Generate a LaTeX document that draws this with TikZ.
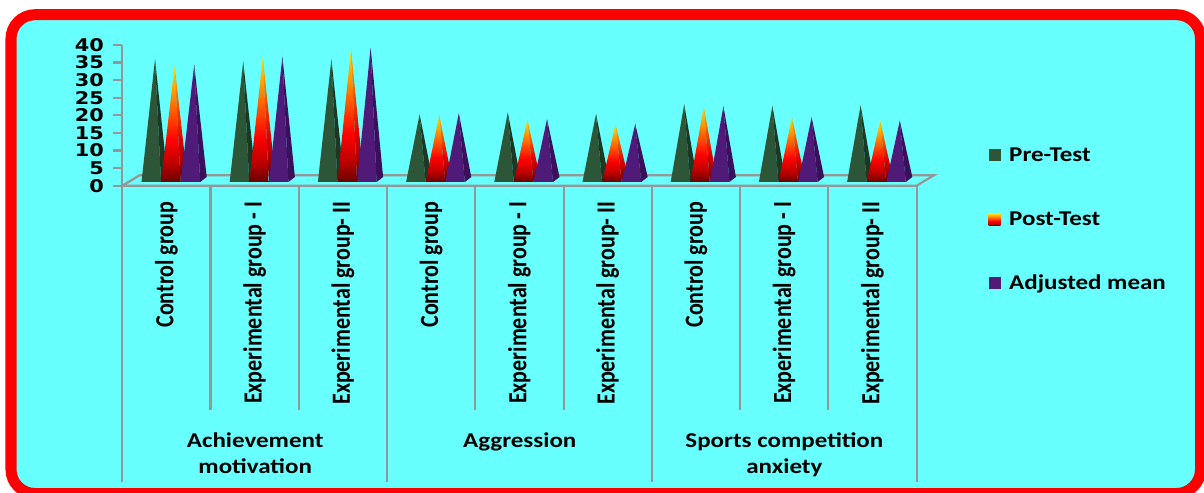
\documentclass[tikz,border=0pt]{standalone}
\usepackage{fontspec}
\usepackage{graphicx}
\setmainfont{Carlito}
\newfontfamily\widefont{Carlito}[FakeStretch=1.19]
\newfontfamily\numfont{DejaVu Sans}[FakeStretch=1.19]
\definecolor{bgcyan}{RGB}{104,255,255}
\definecolor{gridgray}{RGB}{150,150,150}
\definecolor{preF}{RGB}{44,86,55}
\definecolor{preS}{RGB}{27,56,36}
\definecolor{adjF}{RGB}{80,26,120}
\definecolor{adjS}{RGB}{58,15,92}
\definecolor{pdk}{RGB}{105,0,0}
\definecolor{prd1}{RGB}{190,0,0}
\definecolor{prd}{RGB}{255,0,0}
\definecolor{por1}{RGB}{255,80,0}
\definecolor{por}{RGB}{255,155,0}
\definecolor{pyl}{RGB}{255,225,0}
\definecolor{sdk}{RGB}{85,0,0}
\definecolor{srd1}{RGB}{160,0,0}
\definecolor{srd}{RGB}{220,0,0}
\definecolor{sor1}{RGB}{230,60,0}
\definecolor{sor}{RGB}{235,130,0}
\definecolor{syl}{RGB}{240,200,0}
\pgfdeclareverticalshading{postFshade}{100bp}{color(0bp)=(pdk); color(25bp)=(pdk); color(33bp)=(prd1); color(43bp)=(prd); color(54bp)=(por1); color(64bp)=(por); color(75bp)=(pyl); color(100bp)=(pyl)}
\pgfdeclareverticalshading{postSshade}{100bp}{color(0bp)=(sdk); color(25bp)=(sdk); color(33bp)=(srd1); color(43bp)=(srd); color(54bp)=(sor1); color(64bp)=(sor); color(75bp)=(syl); color(100bp)=(syl)}
\tikzset{
  prefront/.style={fill=preF},
  preside/.style={fill=preS},
  postfront/.style={shade,shading=postFshade},
  postside/.style={shade,shading=postSshade},
  adjfront/.style={fill=adjF},
  adjside/.style={fill=adjS},
  gridline/.style={draw=gridgray,line width=2.2bp},
  catlab/.style={font=\fontsize{22bp}{26bp}\selectfont\bfseries,inner sep=0pt,rotate=90,anchor=east},
  grouplab/.style={font=\widefont\fontsize{21bp}{26bp}\selectfont\bfseries,inner sep=0pt,anchor=base},
  leglab/.style={font=\widefont\fontsize{21bp}{26bp}\selectfont\bfseries,inner sep=0pt,anchor=base west},
  numlab/.style={font=\numfont\fontsize{17.5bp}{20bp}\selectfont\bfseries,inner sep=0pt,anchor=east}
}
\newcommand\pyr[4]{%
  \path[#3] (#1-13.5,182) -- (#1+6,182) -- (#1,#2) -- cycle;
  \path[#4] (#1+6,182) -- (#1+12.5,177) -- (#1,#2) -- cycle;
}
\begin{document}
\begin{tikzpicture}[x=1bp,y=-1bp]
\useasboundingbox (0,0) rectangle (1204,493);
\fill[white] (0,0) rectangle (1204,493);
% frame
\draw[red,line width=11bp,fill=bgcyan,rounded corners=24bp] (11,14.7) rectangle (1200.5,493.5);
% floor
\coordinate (f1) at (122.3,185.7);
\coordinate (f2) at (916.6,185.7);
\coordinate (f3) at (934.1,175.2);
\coordinate (f4) at (139.8,175.2);
\draw[gridline] (f1) -- (f2) -- (f3) -- (f4) -- cycle;
% pyramids
\foreach \g/\a/\b/\c in {0/59.3/65.7/65,1/61.7/57.3/56.7,2/59.3/48.3/47.7,3/114.3/115/113.3,4/112.7/119.3/119.3,5/114/124.3/124,6/104.3/106.7/106.3,7/106/117.3/117.3,8/105.3/120.7/120.7}{
  \pgfmathsetmacro\cx{155+88.2*\g}
  \pgfmathsetmacro\cy{\cx+19.6}
  \pgfmathsetmacro\cz{\cx+39.2}
  \pyr{\cx}{\a}{prefront}{preside}
  \pyr{\cy}{\b}{postfront}{postside}
  \pyr{\cz}{\c}{adjfront}{adjside}
}
% y axis
\coordinate (ytop) at (122.3,45);
\coordinate (ybot) at (122.3,482);
\draw[gridline] (ytop) -- (ybot);
\foreach \k in {0,...,8}{
  \pgfmathsetmacro\yy{185.7-17.59*\k}
  \pgfmathtruncatemacro\vv{5*\k}
  \coordinate (t\k) at (113,\yy);
  \coordinate (s\k) at (122.3,\yy);
  \draw[gridline] (t\k) -- (s\k);
  \node[numlab] (n\k) at (104,\yy) {\vv};
}
% category lines
\foreach \k in {1,...,9}{
  \pgfmathsetmacro\xx{122.3+88.26*\k}
  \pgfmathsetmacro\ye{ifthenelse(mod(\k,3)==0,482,410)}
  \coordinate (la\k) at (\xx,185.7);
  \coordinate (lb\k) at (\xx,\ye);
  \draw[gridline] (la\k) -- (lb\k);
}
% category labels
\foreach \k/\t in {0/Control group,1/Experimental group - I,2/Experimental group- II,3/Control group,4/Experimental group - I,5/Experimental group- II,6/Control group,7/Experimental group - I,8/Experimental group- II}{
  \pgfmathsetmacro\xx{122.3+88.26*(\k+0.5)}
  \node[catlab] (c\k) at (\xx,201.5) {\scalebox{1}[1.19]{\t}};
}
% group labels
\node[grouplab] (g1a) at (255.2,447) {Achievement};
\node[grouplab] (g1b) at (255.2,473) {motivation};
\node[grouplab] (g2a) at (519.8,447) {Aggression};
\node[grouplab] (g3a) at (784.4,447) {Sports competition};
\node[grouplab] (g3b) at (784.4,473) {anxiety};
% legend
\fill[preF] (988.5,149.5) rectangle (1000.5,161.5);
\shade[shading=postFshade] (988.5,213.5) rectangle (1000.5,225.5);
\fill[adjF] (988.5,277.5) rectangle (1000.5,289.5);
\node[leglab] (lg1) at (1009,161.5) {Pre-Test};
\node[leglab] (lg2) at (1009,225.5) {Post-Test};
\node[leglab] (lg3) at (1009,289.5) {Adjusted mean};
\end{tikzpicture}
\end{document}
